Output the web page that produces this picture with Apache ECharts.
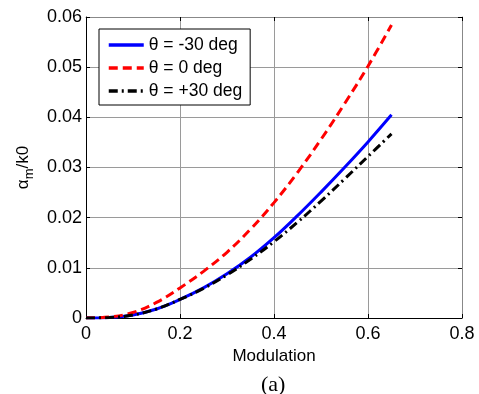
<!DOCTYPE html>
<html>
<head>
<meta charset="utf-8">
<script src="https://cdn.jsdelivr.net/npm/echarts@6/dist/echarts.min.js"></script>
<style>
html,body{margin:0;padding:0;background:#fff;}
#c{width:479px;height:394px;}
</style>
</head>
<body>
<div id="c"></div>
<script>
// Data
var modulation = [0, 0.05, 0.1, 0.15, 0.2, 0.25, 0.3, 0.35, 0.4, 0.45, 0.5, 0.55, 0.6, 0.65];
var thetaMinus30 = [0, 0.0001, 0.0006, 0.0018, 0.0037, 0.0060, 0.0088, 0.0121, 0.0160, 0.0204, 0.0251, 0.0300, 0.0351, 0.0405];
var theta0 = [0, 0.0002, 0.0011, 0.0031, 0.0060, 0.0093, 0.0131, 0.0177, 0.0230, 0.0290, 0.0356, 0.0427, 0.0502, 0.0584];
var thetaPlus30 = [0, 0.0001, 0.0006, 0.0018, 0.0037, 0.0059, 0.0086, 0.0117, 0.0152, 0.0191, 0.0233, 0.0277, 0.0322, 0.0367];
var seriesNames = ['\u03b8 = -30 deg', '\u03b8 = 0 deg', '\u03b8 = +30 deg'];
var xTicks = [0, 0.2, 0.4, 0.6, 0.8];
var yTicks = [0, 0.01, 0.02, 0.03, 0.04, 0.05, 0.06];

function pairs(xs, ys) { return xs.map(function (x, i) { return [x, ys[i]]; }); }

var FONT = "'Liberation Sans', Arial, Helvetica, sans-serif";
var chart = echarts.init(document.getElementById('c'), null, {renderer: 'canvas'});

var xBase = {
  type: 'value', min: xTicks[0], max: xTicks[xTicks.length - 1], interval: 0.2
};
var yBase = {
  type: 'value', min: yTicks[0], max: yTicks[yTicks.length - 1], interval: 0.01
};

chart.setOption({
  animation: false,
  backgroundColor: '#fff',
  textStyle: {fontFamily: FONT},
  grid: {left: 86, right: 17, top: 17, bottom: 76},
  graphic: [{
    type: 'text',
    left: 274 - 13, top: 374,
    style: {text: '(a)', font: "22px 'Liberation Serif', 'Times New Roman', serif", fill: '#000'}
  }],
  legend: {
    orient: 'vertical',
    left: 99, top: 29,
    padding: [7, 8, 5, 8],
    itemWidth: 35, itemHeight: 12, itemGap: 5,
    borderColor: '#000', borderWidth: 1, borderRadius: 0,
    backgroundColor: '#fff',
    itemStyle: {opacity: 0},
    lineStyle: {width: 3.5},
    textStyle: {fontSize: 17.5, color: '#000', fontFamily: FONT, lineHeight: 18},
    data: seriesNames
  },
  xAxis: [
    Object.assign({}, xBase, {
      position: 'bottom',
      name: 'Modulation', nameLocation: 'middle', nameGap: 25,
      nameTextStyle: {fontSize: 17, color: '#000', fontFamily: FONT},
      axisLine: {show: true, lineStyle: {color: '#000', width: 1}},
      axisTick: {show: true, inside: true, length: 4, lineStyle: {color: '#000'}},
      axisLabel: {fontSize: 18, color: '#000', margin: 7, fontFamily: FONT,
        formatter: function (v) { return String(+v.toFixed(2)); }},
      splitLine: {show: true, lineStyle: {color: '#9a9a9a', width: 1}}
    }),
    Object.assign({}, xBase, {
      position: 'top',
      axisLine: {show: true, onZero: false, lineStyle: {color: '#888', width: 1}},
      axisTick: {show: true, inside: true, length: 4, lineStyle: {color: '#000'}},
      axisLabel: {show: false},
      splitLine: {show: false}
    })
  ],
  yAxis: [
    Object.assign({}, yBase, {
      position: 'left',
      name: '{a|\u03b1}{s|m}{a|/k0}', nameLocation: 'middle', nameGap: 46, nameRotate: 90,
      nameTextStyle: {
        color: '#000', fontFamily: FONT,
        rich: {
          a: {fontSize: 17, fontFamily: FONT, color: '#000', lineHeight: 26, verticalAlign: 'middle'},
          s: {fontSize: 13, fontFamily: FONT, color: '#000', lineHeight: 26, verticalAlign: 'bottom'}
        }
      },
      axisLine: {show: true, lineStyle: {color: '#000', width: 1}},
      axisTick: {show: true, inside: true, length: 4, lineStyle: {color: '#000'}},
      axisLabel: {fontSize: 18, color: '#000', margin: 4, fontFamily: FONT,
        formatter: function (v) { return String(+v.toFixed(2)); }},
      splitLine: {show: true, lineStyle: {color: '#9a9a9a', width: 1}}
    }),
    Object.assign({}, yBase, {
      position: 'right',
      axisLine: {show: true, onZero: false, lineStyle: {color: '#888', width: 1}},
      axisTick: {show: true, inside: true, length: 4, lineStyle: {color: '#000'}},
      axisLabel: {show: false},
      splitLine: {show: false}
    })
  ],
  series: [
    {
      name: seriesNames[0], type: 'line', xAxisIndex: 0, yAxisIndex: 0,
      data: pairs(modulation, thetaMinus30), smooth: 0.4,
      symbol: 'none', z: 3,
      lineStyle: {color: '#0000ff', width: 3, type: 'solid'},
      itemStyle: {color: '#0000ff'}
    },
    {
      name: seriesNames[1], type: 'line', xAxisIndex: 0, yAxisIndex: 0,
      data: pairs(modulation, theta0), smooth: 0.4,
      symbol: 'none', z: 3,
      lineStyle: {color: '#ff0000', width: 3, type: [9, 5]},
      itemStyle: {color: '#ff0000'}
    },
    {
      name: seriesNames[2], type: 'line', xAxisIndex: 0, yAxisIndex: 0,
      data: pairs(modulation, thetaPlus30), smooth: 0.4,
      symbol: 'none', z: 4,
      lineStyle: {color: '#000000', width: 3, type: [9, 4, 2, 4]},
      itemStyle: {color: '#000000'}
    }
  ]
});
</script>
</body>
</html>
